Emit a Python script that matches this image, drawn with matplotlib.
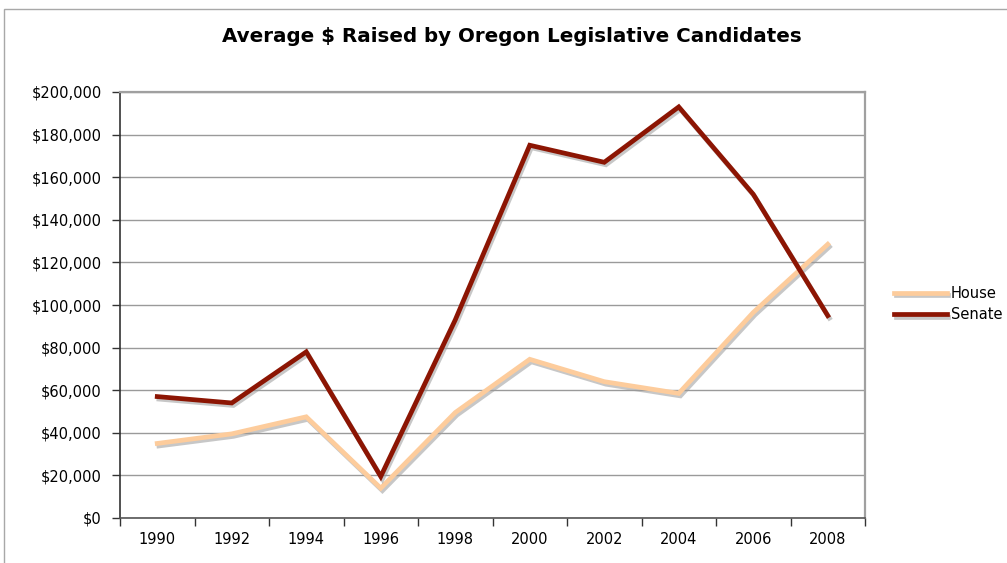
import matplotlib
matplotlib.use("Agg")
import matplotlib.pyplot as plt
import matplotlib.patheffects as pe
from matplotlib.patches import Rectangle
from matplotlib.ticker import FuncFormatter, FixedLocator

years = ["1990", "1992", "1994", "1996", "1998", "2000", "2002", "2004", "2006", "2008"]
house = [35000, 39500, 47500, 14000, 49500, 74500, 64000, 58500, 96500, 128500]
senate = [57000, 54000, 78000, 19500, 93000, 175000, 167000, 193000, 152000, 95000]
title = "Average $ Raised by Oregon Legislative Candidates"

plt.rcParams['font.family'] = ['DejaVu Sans']

fig = plt.figure(figsize=(10.07, 5.63), dpi=100)
fig.patches.append(Rectangle((4/1007, -0.1), 1.2, 1 - 9/563 + 0.1, transform=fig.transFigure,
                             fill=False, edgecolor='#a8a8a8', linewidth=1.0))

ax = fig.add_axes([120/1007, 1 - 518/563, 745/1007, 426/563])
x = list(range(len(years)))

shadow = [pe.SimpleLineShadow(offset=(1.2, -1.8), shadow_color='#9a9a9a', alpha=0.55), pe.Normal()]
ax.plot(x, house, color='#fdcc9c', linewidth=3.4, label='House', path_effects=shadow,
        solid_joinstyle='miter', zorder=3)
ax.plot(x, senate, color='#8c1503', linewidth=3.4, label='Senate', path_effects=shadow,
        solid_joinstyle='miter', zorder=4)

ax.set_xlim(-0.5, len(years) - 0.5)
ax.set_ylim(0, 200000)
ax.set_yticks(range(0, 200001, 20000))
ax.yaxis.set_major_formatter(FuncFormatter(lambda v, p: "${:,.0f}".format(v)))
ax.grid(axis='y', color='#9a9a9a', linewidth=1.0, zorder=0)
ax.set_axisbelow(True)

ax.xaxis.set_major_locator(FixedLocator([i - 0.5 for i in range(len(years) + 1)]))
ax.xaxis.set_major_formatter(FuncFormatter(lambda v, p: ""))
ax.set_xticks(x, minor=True)
ax.set_xticklabels(years, minor=True)
ax.tick_params(axis='x', which='minor', length=0, pad=10, labelsize=10.5)
ax.tick_params(axis='x', which='major', length=6, color='#333333', width=1)
ax.tick_params(axis='y', length=6, color='#333333', width=1, labelsize=10.5, pad=7)

ax.spines['left'].set_color('#333333')
ax.spines['bottom'].set_color('#555555')
ax.spines['top'].set_color('#a0a0a0')
ax.spines['right'].set_color('#a0a0a0')
ax.spines['top'].set_linewidth(1.6)
ax.spines['right'].set_linewidth(1.6)
ax.spines['left'].set_linewidth(1.2)
ax.spines['bottom'].set_linewidth(1.2)

fig.text(512/1007, 1 - 36/563, title, ha='center', va='center', fontsize=14.3, fontweight='bold')

ax.legend(loc='center left', bbox_to_anchor=(881/1007, 1 - 304/563), bbox_transform=fig.transFigure,
          frameon=False, fontsize=10.5, handlelength=3.6, handletextpad=0.3, labelspacing=0.45)

fig.savefig("out.png", dpi=100)
